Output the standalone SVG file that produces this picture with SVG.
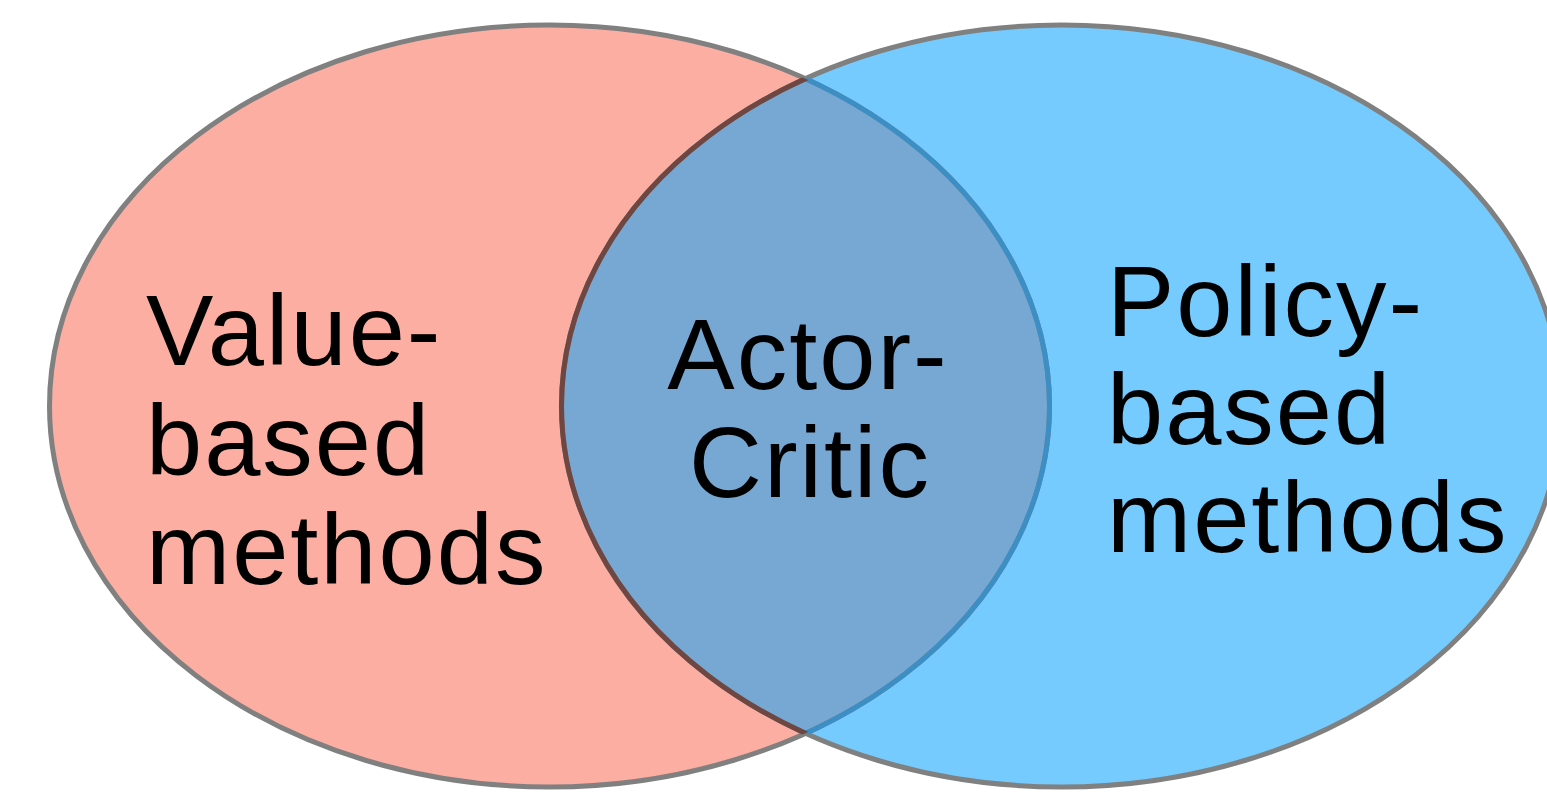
<svg xmlns="http://www.w3.org/2000/svg" width="1547" height="793" viewBox="0 0 1547 793">
  <style>
    .label { font-family: "Liberation Sans", Arial, Helvetica, sans-serif; font-size: 101px; letter-spacing: 2px; fill: #000000; }
    .rim { fill: none; stroke-width: 5; }
  </style>
  <defs>
    <ellipse id="shape-value" cx="549.5" cy="406" rx="500" ry="381"/>
    <ellipse id="shape-policy" cx="1061.5" cy="406" rx="500" ry="381"/>
    <clipPath id="inside-value"><use href="#shape-value"/></clipPath>
    <clipPath id="inside-policy"><use href="#shape-policy"/></clipPath>
  </defs>

  <rect width="1547" height="793" fill="#ffffff"/>

  <!-- Value-based methods -->
  <g id="value-based">
    <use href="#shape-value" fill="#FCAEA3"/>
  </g>

  <!-- Policy-based methods -->
  <g id="policy-based">
    <use href="#shape-policy" fill="#76CBFE"/>
  </g>

  <!-- Actor-Critic: the shared region -->
  <g id="actor-critic">
    <use href="#shape-value" fill="#77A8D4" clip-path="url(#inside-policy)"/>
  </g>

  <!-- outlines, tinted where they cross the other set -->
  <g id="outlines">
    <use href="#shape-value" class="rim" stroke="#808080"/>
    <use href="#shape-policy" class="rim" stroke="#808080"/>
    <use href="#shape-value" class="rim" stroke="#3C8FC4" clip-path="url(#inside-policy)"/>
    <use href="#shape-policy" class="rim" stroke="#6E4742" clip-path="url(#inside-value)"/>
  </g>

  <g id="connectors"/>

  <g id="labels">
    <text class="label" x="146" y="365">Value-</text>
    <text class="label" x="146" y="475">based</text>
    <text class="label" x="146" y="584">methods</text>

    <text class="label" x="808" y="389" text-anchor="middle">Actor-</text>
    <text class="label" x="810" y="497" text-anchor="middle">Critic</text>

    <text class="label" x="1107" y="336">Policy-</text>
    <text class="label" x="1107" y="444">based</text>
    <text class="label" x="1107" y="552">methods</text>
  </g>
</svg>
